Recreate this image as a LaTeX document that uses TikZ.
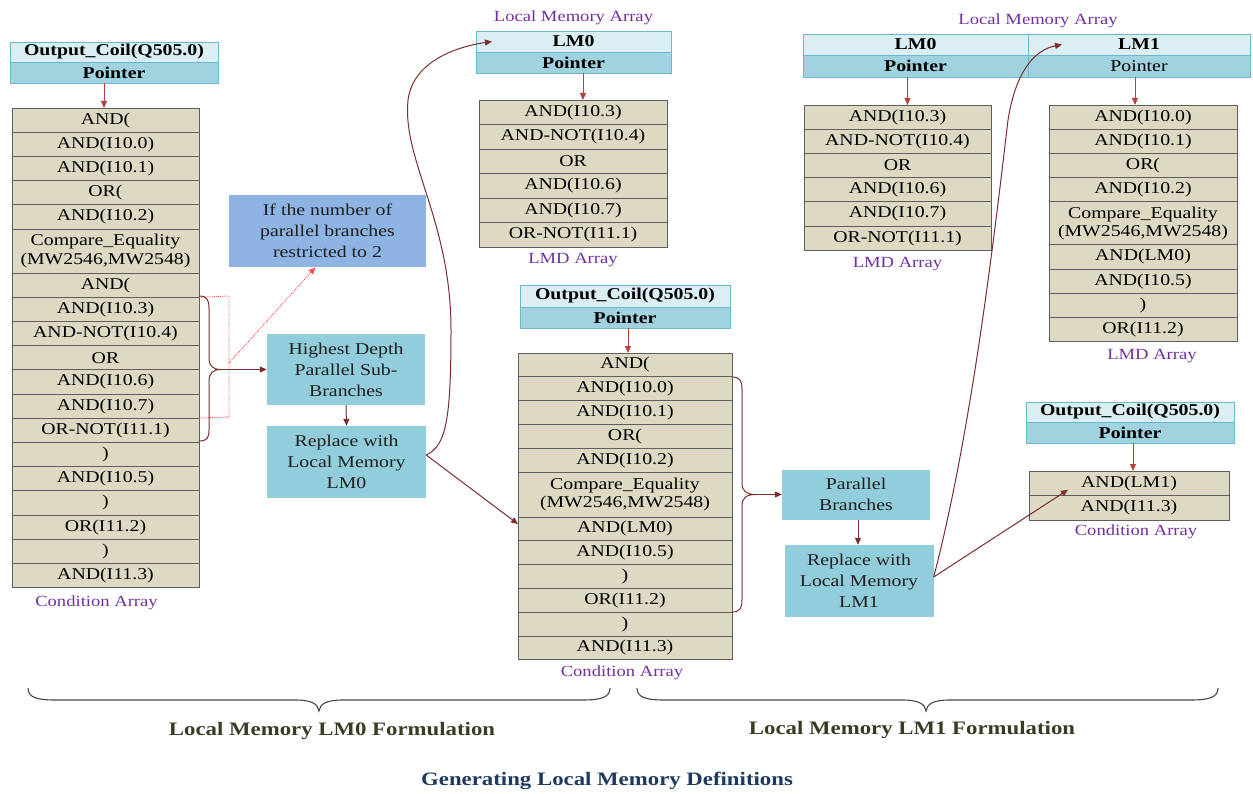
\documentclass[tikz,border=0pt]{standalone}
\usepackage{fontspec}
\setmainfont{Liberation Serif}[FakeStretch=1.2]
\usetikzlibrary{arrows.meta,positioning}
\definecolor{cellfill}{HTML}{DDD9C3}
\definecolor{cellline}{HTML}{5F5F5F}
\definecolor{hdtop}{HTML}{DAEEF3}
\definecolor{hdbot}{HTML}{A0D2E0}
\definecolor{hdline}{HTML}{6CB9CF}
\definecolor{boxfill}{HTML}{92CDDC}
\definecolor{ifboxfill}{HTML}{8EB4E3}
\definecolor{ptrcol}{HTML}{B5423F}
\definecolor{concol}{HTML}{7B2D2D}
\definecolor{lblpurple}{HTML}{7030A0}
\definecolor{olivetxt}{HTML}{3D3A24}
\definecolor{navytxt}{HTML}{1F3A5F}
\definecolor{reddot}{HTML}{FF5050}
\newcommand\cellfont{\fontsize{16.5}{18.5}\selectfont}
\newcommand\lblfont{\fontsize{15.5}{17}\selectfont}
\newcommand\bigfont{\fontsize{19}{22}\selectfont\bfseries}
\begin{document}
\begin{tikzpicture}[x=1pt,y=-1pt,
  cell/.style 2 args={draw=cellline, fill=cellfill, line width=0.9pt, minimum width=#1, minimum height=#2, inner sep=0pt, outer sep=0pt, font=\cellfont, align=center, text=black},
  hdt/.style 2 args={draw=hdline, fill=hdtop, line width=0.9pt, minimum width=#1, minimum height=#2, inner sep=0pt, outer sep=0pt, font=\cellfont\bfseries, text=black},
  hdb/.style 2 args={draw=hdline, fill=hdbot, line width=0.9pt, minimum width=#1, minimum height=#2, inner sep=0pt, outer sep=0pt, font=\cellfont\bfseries, text=black},
  bluebox/.style 2 args={fill=boxfill, minimum width=#1, minimum height=#2, inner sep=0pt, font=\fontsize{16.5}{21}\selectfont, align=center, text={rgb,255:red,30;green,30;blue,30}},
  lbl/.style={font=\lblfont, text=lblpurple, inner sep=0pt},
  ptr/.style={draw=ptrcol, line width=1pt, -{Triangle[length=7pt,width=6pt]}},
  con/.style={draw=concol, line width=1pt, -{Triangle[length=7pt,width=6pt]}},
  brc/.style={draw=concol, line width=1pt},
  bbr/.style={draw={rgb,255:red,70;green,70;blue,70}, line width=1.1pt},
]
\useasboundingbox (0,0) rectangle (1253,794);

% ---------- Left: header and condition array ----------
\node[hdt={208}{20}, anchor=north west] (hL1) at (10,42) {Output\_Coil(Q505.0)};
\node[hdb={208}{21}, below=0pt of hL1] (hL2) {Pointer};

\node[cell={187}{24.2}, anchor=north west] (L1) at (12,108) {AND(};
\node[cell={187}{24.2}, below=0pt of L1] (L2) {AND(I10.0)};
\node[cell={187}{24.2}, below=0pt of L2] (L3) {AND(I10.1)};
\node[cell={187}{24.2}, below=0pt of L3] (L4) {OR(};
\node[cell={187}{24.2}, below=0pt of L4] (L5) {AND(I10.2)};
\node[cell={187}{44}, below=0pt of L5] (L6) {Compare\_Equality\\(MW2546,MW2548)};
\node[cell={187}{24.2}, below=0pt of L6] (L7) {AND(};
\node[cell={187}{24.2}, below=0pt of L7] (L8) {AND(I10.3)};
\node[cell={187}{24.2}, below=0pt of L8] (L9) {AND-NOT(I10.4)};
\node[cell={187}{24.2}, below=0pt of L9] (L10) {OR};
\node[cell={187}{24.2}, below=0pt of L10] (L11) {AND(I10.6)};
\node[cell={187}{24.2}, below=0pt of L11] (L12) {AND(I10.7)};
\node[cell={187}{24.2}, below=0pt of L12] (L13) {OR-NOT(I11.1)};
\node[cell={187}{24.2}, below=0pt of L13] (L14) {)};
\node[cell={187}{24.2}, below=0pt of L14] (L15) {AND(I10.5)};
\node[cell={187}{24.2}, below=0pt of L15] (L16) {)};
\node[cell={187}{24.2}, below=0pt of L16] (L17) {OR(I11.2)};
\node[cell={187}{24.2}, below=0pt of L17] (L18) {)};
\node[cell={187}{24.2}, below=0pt of L18] (L19) {AND(I11.3)};
\node[lbl, below=8pt of L19, xshift=-9pt] (Llbl) {Condition Array};
\draw[ptr] ([xshift=-1.5pt]L1.north |- hL2.south) -- ([xshift=-1.5pt]L1.north);

% red dotted frame and hint
\draw[draw=reddot, densely dotted, line width=0.9pt] (L8.north east) -- (229,296) -- (229,417) -- (L12.south east);
\node[bluebox={197}{72}, fill=ifboxfill] (ifb) at (327.5,231) {If the number of\\parallel branches\\restricted to 2};
\coordinate (rd) at (229,363);
\draw[draw=reddot, densely dotted, line width=0.9pt, -{Triangle[length=7pt,width=6pt]}] (rd) -- ([xshift=-12pt]ifb.south);

% brace on left table
\draw[brc] (199,296) .. controls (207,296) and (209,300) .. (209,308) -- (209,358)
  .. controls (209,366) and (213,369.5) .. (221,369.5)
  .. controls (213,369.5) and (209,373) .. (209,381) -- (209,430)
  .. controls (209,438) and (207,441) .. (199,441);
\coordinate (bL) at (221,369.5);

\node[bluebox={158}{71}] (hd) at (346,369.5) {Highest Depth\\Parallel Sub-\\Branches};
\node[bluebox={159}{72}] (rep0) at (346.5,462) {Replace with\\Local Memory\\LM0};
\draw[con] (bL) -- (hd.west);
\draw[con] (hd.south) -- (rep0.north);

% ---------- Middle top: LM0 local memory ----------
\node[hdt={195}{21}, anchor=north west] (hm1) at (476,31) {LM0};
\node[hdb={195}{21}, below=0pt of hm1] (hm2) {Pointer};
\node[lbl, above=6pt of hm1] (hmlbl) {Local Memory Array};
\node[cell={188}{24.5}, anchor=north west] (P1) at (479,100) {AND(I10.3)};
\node[cell={188}{24.5}, below=0pt of P1] (P2) {AND-NOT(I10.4)};
\node[cell={188}{24.5}, below=0pt of P2] (P3) {OR};
\node[cell={188}{24.5}, below=0pt of P3] (P4) {AND(I10.6)};
\node[cell={188}{24.5}, below=0pt of P4] (P5) {AND(I10.7)};
\node[cell={188}{24.5}, below=0pt of P5] (P6) {OR-NOT(I11.1)};
\node[lbl, below=6pt of P6] (Plbl) {LMD Array};
\draw[ptr] ([xshift=10pt]P1.north |- hm2.south) -- ([xshift=10pt]P1.north);

% ---------- Middle: condition array ----------
\node[hdt={210}{22}, anchor=north west] (hc1) at (520,285) {Output\_Coil(Q505.0)};
\node[hdb={210}{21}, below=0pt of hc1] (hc2) {Pointer};
\node[cell={214}{23.8}, anchor=north west] (M1) at (518,353) {AND(};
\node[cell={214}{23.8}, below=0pt of M1] (M2) {AND(I10.0)};
\node[cell={214}{23.8}, below=0pt of M2] (M3) {AND(I10.1)};
\node[cell={214}{23.8}, below=0pt of M3] (M4) {OR(};
\node[cell={214}{23.8}, below=0pt of M4] (M5) {AND(I10.2)};
\node[cell={214}{45}, below=0pt of M5] (M6) {Compare\_Equality\\(MW2546,MW2548)};
\node[cell={214}{23.8}, below=0pt of M6] (M7) {AND(LM0)};
\node[cell={214}{23.8}, below=0pt of M7] (M8) {AND(I10.5)};
\node[cell={214}{23.8}, below=0pt of M8] (M9) {)};
\node[cell={214}{23.8}, below=0pt of M9] (M10) {OR(I11.2)};
\node[cell={214}{23.8}, below=0pt of M10] (M11) {)};
\node[cell={214}{23.8}, below=0pt of M11] (M12) {AND(I11.3)};
\node[lbl, below=6pt of M12, xshift=-3pt] (Mlbl) {Condition Array};
\draw[ptr] ([xshift=3pt]M1.north |- hc2.south) -- ([xshift=3pt]M1.north);

% connectors from Replace LM0
\draw[con] ([yshift=7pt]rep0.east) .. controls (446,446) and (451,420) .. (451,330)
  .. controls (451,220) and (402,160) .. (408,100)
  .. controls (413,62) and (455,47) .. ([xshift=16pt]hm1.west);
\draw[con] ([yshift=7pt]rep0.east) -- ([yshift=-7pt]M7.north west);

% brace on middle table
\draw[brc] (732,377) .. controls (740,377) and (742,381) .. (742,389) -- (742,483)
  .. controls (742,491) and (746,494.5) .. (756,494.5)
  .. controls (746,494.5) and (742,498) .. (742,506) -- (742,600)
  .. controls (742,608) and (740,612) .. (732,612);
\coordinate (bM) at (756,494.5);

\node[bluebox={148}{50}] (pb) at (856,494.5) {Parallel\\Branches};
\node[bluebox={149}{72}] (rep1) at (859,581) {Replace with\\Local Memory\\LM1};
\draw[con] (bM) -- (pb.west);
\draw[con] ([xshift=2pt]pb.south) -- ([xshift=-1pt]rep1.north);

% ---------- Right top: LM0 / LM1 local memory ----------
\node[hdt={225}{21}, anchor=north west] (r0a) at (803,34) {LM0};
\node[hdb={225}{22}, below=0pt of r0a] (r0b) {Pointer};
\node[hdt={222}{21}, anchor=north west] (r1a) at (1028,34) {LM1};
\node[hdb={222}{22}, below=0pt of r1a, font=\cellfont] (r1b) {Pointer};
\node[lbl, above=6pt of r0a.north east, xshift=10pt] (rlbl) {Local Memory Array};

\node[cell={187}{24.2}, anchor=north west] (R1) at (804,105) {AND(I10.3)};
\node[cell={187}{24.2}, below=0pt of R1] (R2) {AND-NOT(I10.4)};
\node[cell={187}{24.2}, below=0pt of R2] (R3) {OR};
\node[cell={187}{24.2}, below=0pt of R3] (R4) {AND(I10.6)};
\node[cell={187}{24.2}, below=0pt of R4] (R5) {AND(I10.7)};
\node[cell={187}{24.2}, below=0pt of R5] (R6) {OR-NOT(I11.1)};
\node[lbl, below=7pt of R6] (Rlbl) {LMD Array};
\draw[ptr] ([xshift=10pt]R1.north |- r0b.south) -- ([xshift=10pt]R1.north);

\node[cell={188}{24.2}, anchor=north west] (S1) at (1049,105) {AND(I10.0)};
\node[cell={188}{24.2}, below=0pt of S1] (S2) {AND(I10.1)};
\node[cell={188}{24.2}, below=0pt of S2] (S3) {OR(};
\node[cell={188}{24.2}, below=0pt of S3] (S4) {AND(I10.2)};
\node[cell={188}{43}, below=0pt of S4] (S5) {Compare\_Equality\\(MW2546,MW2548)};
\node[cell={188}{24.2}, below=0pt of S5] (S6) {AND(LM0)};
\node[cell={188}{24.2}, below=0pt of S6] (S7) {AND(I10.5)};
\node[cell={188}{24.2}, below=0pt of S7] (S8) {)};
\node[cell={188}{24.2}, below=0pt of S8] (S9) {OR(I11.2)};
\node[lbl, below=7pt of S9, xshift=9pt] (Slbl) {LMD Array};
\draw[ptr] ([xshift=-8pt]S1.north |- r1b.south) -- ([xshift=-8pt]S1.north);

% ---------- Right bottom: final condition array ----------
\node[hdt={208}{20}, anchor=north west] (hr1) at (1026,402) {Output\_Coil(Q505.0)};
\node[hdb={208}{21}, below=0pt of hr1] (hr2) {Pointer};
\node[cell={200}{24.5}, anchor=north west] (C1) at (1029,471) {AND(LM1)};
\node[cell={200}{24.5}, below=0pt of C1] (C2) {AND(I11.3)};
\node[lbl, below=5pt of C2, xshift=7pt] (Clbl) {Condition Array};
\draw[ptr] ([xshift=4pt]C1.north |- hr2.south) -- ([xshift=4pt]C1.north);

% connectors from Replace LM1
\draw[con] ([yshift=4pt]rep1.east) .. controls (972,430) and (995,230) .. (1008,120)
  .. controls (1016,70) and (1035,50) .. ([xshift=34pt]r1a.west);
\draw[con] ([yshift=4pt]rep1.east) -- ([xshift=39pt,yshift=-6.5pt]C1.west);

% ---------- Bottom braces and titles ----------
\draw[bbr] (28,688) .. controls (28,697) and (36,700) .. (55,700) -- (295,700)
  .. controls (312,700) and (318,704) .. (319,711)
  .. controls (320,704) and (326,700) .. (343,700) -- (583,700)
  .. controls (602,700) and (610,697) .. (610,688);
\draw[bbr] (637,688) .. controls (637,697) and (645,700) .. (664,700) -- (902,700)
  .. controls (919,700) and (925,704) .. (926,711)
  .. controls (927,704) and (933,700) .. (950,700) -- (1191,700)
  .. controls (1210,700) and (1218,697) .. (1218,688);
\node[font=\bigfont, text=olivetxt] (t0) at (332,731) {Local Memory LM0 Formulation};
\node[font=\bigfont, text=olivetxt] (t1) at (912,730) {Local Memory LM1 Formulation};
\node[font=\bigfont, text=navytxt] (t2) at (607,781) {Generating Local Memory Definitions};
\end{tikzpicture}
\end{document}
